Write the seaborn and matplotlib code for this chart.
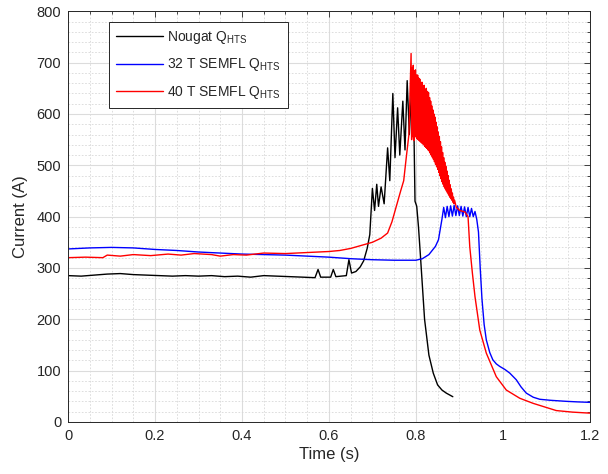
import matplotlib
matplotlib.use("Agg")
import matplotlib.pyplot as plt
import seaborn as sns
from matplotlib.ticker import MultipleLocator, FormatStrFormatter

# Nougat Q_HTS
nougat_t = [0.000, 0.030, 0.060, 0.090, 0.120, 0.150, 0.180, 0.210, 0.240, 0.270,
            0.300, 0.330, 0.360, 0.390, 0.420, 0.450, 0.480, 0.510, 0.540, 0.568,
            0.575, 0.581, 0.604, 0.610, 0.616, 0.640, 0.646, 0.652, 0.662, 0.672,
            0.680, 0.688, 0.694, 0.700, 0.705, 0.710, 0.714, 0.720, 0.727, 0.735,
            0.740, 0.747, 0.752, 0.758, 0.763, 0.770, 0.775, 0.780, 0.785, 0.790,
            0.795, 0.798, 0.802, 0.806, 0.810, 0.820, 0.830, 0.840, 0.850, 0.860,
            0.870, 0.885]
nougat_i = [285, 284, 286, 288, 289, 287, 286, 285, 284, 285,
            284, 285, 283, 284, 282, 285, 284, 283, 282, 281,
            297, 282, 282, 297, 283, 285, 316, 290, 293, 302,
            314, 338, 365, 455, 412, 463, 420, 458, 425, 534,
            470, 640, 515, 612, 520, 625, 530, 665, 560, 648,
            600, 430, 420, 380, 330, 200, 130, 95, 72, 62,
            56, 49]

# 32 T SEMFL Q_HTS
semfl32_t = [0.000, 0.050, 0.100, 0.150, 0.200, 0.250, 0.300, 0.350, 0.400, 0.450,
             0.500, 0.550, 0.600, 0.650, 0.700, 0.750, 0.800, 0.815, 0.830, 0.845,
             0.852, 0.857, 0.860, 0.864, 0.868, 0.872, 0.876, 0.880, 0.884, 0.888,
             0.892, 0.896, 0.900, 0.904, 0.908, 0.912, 0.916, 0.920, 0.924, 0.928,
             0.932, 0.936, 0.940, 0.944, 0.948, 0.952, 0.957, 0.962, 0.970, 0.977,
             0.985, 0.993, 1.005, 1.016, 1.031, 1.042, 1.054, 1.070, 1.085, 1.110,
             1.146, 1.170, 1.200]
semfl32_i = [337, 339, 340, 339, 336, 334, 331, 329, 327, 326,
             325, 323, 321, 318, 316, 315, 315, 318, 326, 342,
             355, 380, 395, 418, 398, 420, 400, 421, 401, 422,
             402, 421, 402, 420, 401, 419, 400, 418, 400, 416,
             400, 410, 395, 370, 300, 240, 190, 160, 135, 121,
             113, 108, 102, 95, 82, 68, 56, 48, 44, 42,
             40, 39, 38]

# 40 T SEMFL Q_HTS
semfl40_t = [0.000, 0.040, 0.080, 0.090, 0.120, 0.150, 0.190, 0.230, 0.260, 0.290,
             0.330, 0.350, 0.380, 0.410, 0.450, 0.500, 0.550, 0.600, 0.625, 0.650,
             0.675, 0.700, 0.720, 0.735, 0.745, 0.755, 0.765, 0.772, 0.778, 0.784,
             0.78900, 0.79025, 0.79150, 0.79275, 0.79400, 0.79525, 0.79650, 0.79775,
             0.79900, 0.80025, 0.80150, 0.80275, 0.80400, 0.80525, 0.80650, 0.80775,
             0.80900, 0.81025, 0.81150, 0.81275, 0.81400, 0.81525, 0.81650, 0.81775,
             0.81900, 0.82025, 0.82150, 0.82275, 0.82400, 0.82525, 0.82650, 0.82775,
             0.82900, 0.83025, 0.83150, 0.83275, 0.83400, 0.83525, 0.83650, 0.83775,
             0.83900, 0.84025, 0.84150, 0.84275, 0.84400, 0.84525, 0.84650, 0.84775,
             0.84900, 0.85025, 0.85150, 0.85275, 0.85400, 0.85525, 0.85650, 0.85775,
             0.85900, 0.86025, 0.86150, 0.86275, 0.86400, 0.86525, 0.86650, 0.86775,
             0.86900, 0.87025, 0.87150, 0.87275, 0.87400, 0.87525, 0.87650, 0.87775,
             0.87900, 0.88025, 0.88150, 0.88275, 0.88400, 0.88525, 0.88650, 0.88775,
             0.88900, 0.8930, 0.9010, 0.9130, 0.9200, 0.9240, 0.9300, 0.9360, 0.9470, 0.9620,
             0.9850, 1.0080, 1.0390, 1.0700, 1.0930, 1.1230, 1.1600, 1.2000]
semfl40_i = [320, 321, 320, 325, 323, 326, 324, 327, 325, 328,
             326, 323, 326, 325, 329, 328, 330, 332, 334, 338,
             344, 350, 358, 368, 390, 420, 450, 470, 516, 560,
             718, 550, 690, 556, 695, 548, 684, 555,
             686, 560, 676, 552, 676, 550, 670, 548,
             668, 546, 660, 544, 662, 542, 655, 540,
             656, 537, 648, 535, 650, 533, 644, 530,
             642, 528, 632, 524, 625, 520, 616, 516,
             608, 512, 600, 507, 594, 502, 584, 497,
             575, 492, 565, 486, 556, 480, 546, 474,
             536, 468, 525, 463, 515, 458, 506, 454,
             498, 450, 489, 446, 480, 442, 471, 438,
             462, 435, 454, 432, 446, 428, 438, 425,
             432, 418, 412, 409, 400, 341, 290, 244, 179, 134,
             88, 62, 46, 36, 30, 22, 19, 17]

sns.set_style("white")
plt.rcParams['font.family'] = ['Liberation Sans', 'DejaVu Sans']
plt.rcParams['mathtext.default'] = 'regular'

txt = '#262626'
fig = plt.figure(figsize=(6.08, 4.74), dpi=100)
ax = fig.add_axes([0.112, 0.110, 0.858, 0.866])

sns.lineplot(x=nougat_t, y=nougat_i, ax=ax, color='black', lw=1,
             estimator=None, sort=False, label='Nougat Q$_{HTS}$')
sns.lineplot(x=semfl32_t, y=semfl32_i, ax=ax, color='#0000ff', lw=1,
             estimator=None, sort=False, label='32 T SEMFL Q$_{HTS}$')
sns.lineplot(x=semfl40_t, y=semfl40_i, ax=ax, color='#ff0000', lw=1,
             estimator=None, sort=False, label='40 T SEMFL Q$_{HTS}$')

ax.set_xlim(0, 1.2)
ax.set_ylim(0, 800)
ax.xaxis.set_major_locator(MultipleLocator(0.2))
ax.xaxis.set_major_formatter(FormatStrFormatter('%g'))
ax.xaxis.set_minor_locator(MultipleLocator(0.05))
ax.yaxis.set_major_locator(MultipleLocator(100))
ax.yaxis.set_minor_locator(MultipleLocator(20))

ax.grid(which='major', color='#dcdcdc', lw=0.8, ls='-')
ax.grid(which='minor', color='#d8d8d8', lw=0.6, ls=(0, (2, 2)))
ax.set_axisbelow(True)
ax.tick_params(which='both', direction='in', top=True, right=True,
               colors=txt, labelsize=10.5, width=0.6)
ax.tick_params(which='major', length=4, pad=5)
ax.tick_params(which='minor', length=2)
for s in ax.spines.values():
    s.set_color(txt)
    s.set_linewidth(0.7)

ax.set_xlabel('Time (s)', fontsize=12, color=txt, labelpad=3)
ax.set_ylabel('Current (A)', fontsize=12, color=txt, labelpad=6)

leg = ax.legend(loc='upper left', bbox_to_anchor=(0.078, 0.974), borderaxespad=0,
                fontsize=10, frameon=True, fancybox=False, edgecolor=txt, framealpha=1,
                handlelength=3.4, labelspacing=0.75, borderpad=0.5, handletextpad=0.3)
leg.get_frame().set_linewidth(0.7)

plt.savefig('out.png', dpi=100)
